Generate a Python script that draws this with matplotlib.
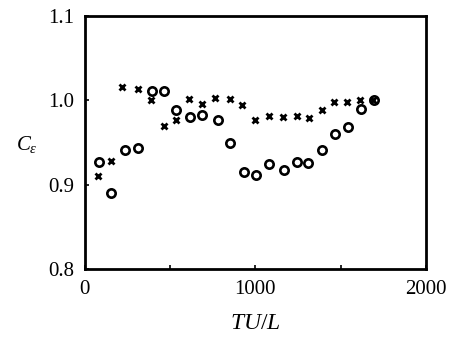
import numpy as np
import matplotlib.pyplot as plt

plt.rcParams['font.family'] = ['Liberation Serif', 'DejaVu Serif']
plt.rcParams['mathtext.fontset'] = 'custom'
plt.rcParams['mathtext.it'] = 'Liberation Serif:italic'
plt.rcParams['mathtext.rm'] = 'Liberation Serif'

# circles
t_circ = [82, 155, 237, 313, 393, 462, 534, 616, 689, 779, 851, 932, 1004,
          1078, 1166, 1247, 1311, 1391, 1470, 1542, 1622, 1697]
c_circ = [0.927, 0.890, 0.941, 0.944, 1.011, 1.011, 0.989, 0.980, 0.983,
          0.977, 0.950, 0.915, 0.911, 0.925, 0.918, 0.927, 0.926, 0.941,
          0.960, 0.969, 0.990, 1.000]

# crosses
t_cross = [76, 155, 219, 309, 387, 464, 532, 613, 689, 763, 849, 920, 1000,
           1082, 1160, 1247, 1313, 1388, 1460, 1538, 1616, 1691]
c_cross = [0.910, 0.928, 1.016, 1.013, 1.000, 0.970, 0.977, 1.002, 0.996,
           1.003, 1.002, 0.995, 0.977, 0.981, 0.980, 0.982, 0.979, 0.989,
           0.998, 0.998, 1.000, 1.000]

fig = plt.figure(figsize=(4.54, 3.41), dpi=100)
ax = fig.add_axes([0.187, 0.211, 0.751, 0.742])

ax.plot(t_cross, c_cross, linestyle='none', marker='x', markersize=3.8,
        markeredgewidth=2, color='black')
ax.plot(t_circ, c_circ, linestyle='none', marker='o', markersize=6,
        markeredgewidth=1.9, markerfacecolor='none', color='black')

ax.set_xlim(0, 2000)
ax.set_ylim(0.8, 1.1)
ax.set_xticks([0, 1000, 2000])
ax.set_xticks([500, 1500], minor=True)
ax.set_yticks([0.8, 0.9, 1.0, 1.1])
ax.set_yticklabels(['0.8', '0.9', '1.0', '1.1'])

for s in ax.spines.values():
    s.set_linewidth(2)
ax.tick_params(which='both', direction='in', length=3, width=1.2,
               labelsize=15, top=False, right=False, pad=8)

ax.set_xlabel(r'$TU/L$', fontsize=17, labelpad=10)
ax.set_ylabel(r'$C_\epsilon$', fontsize=15, rotation=0)
ax.yaxis.set_label_coords(-0.17, 0.45)

fig.savefig('out.png', dpi=100)
